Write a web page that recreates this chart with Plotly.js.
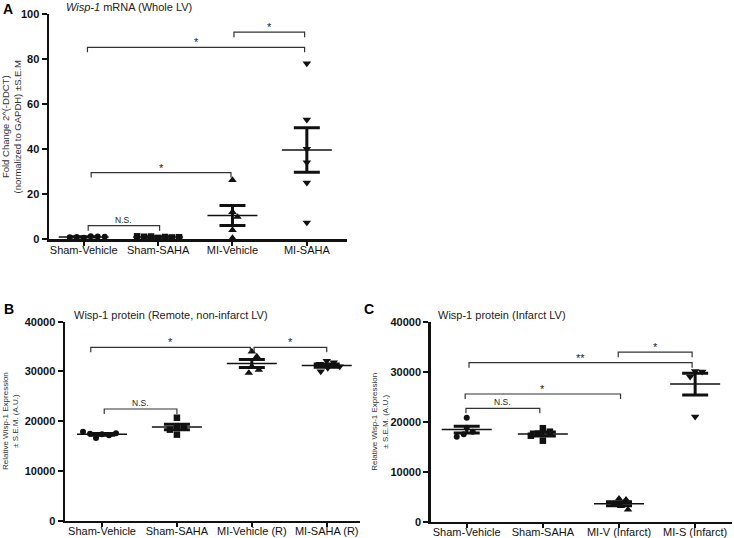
<!DOCTYPE html>
<html><head><meta charset="utf-8">
<script src="https://cdn.plot.ly/plotly-3.0.1.min.js"></script>
<style>html,body{margin:0;padding:0;background:#fff;}#chart{width:734px;height:538px;}</style>
</head><body><div id="chart"></div>
<script>
// ---------- DATA ----------
// Panel A: Wisp-1 mRNA (Whole LV)
const catsA = ['Sham-Vehicle', 'Sham-SAHA', 'MI-Vehicle', 'MI-SAHA'];
const aShamVehicle = [0.6, 1.2, 0.9, 1.1, 0.8, 1.0];
const aShamSAHA = [0.5, 0.9, 1.1, 0.7, 1.0, 0.8, 1.2];
const aMIVehicle = [26.2, 12.0, 9.8, 4.0, 0.4];
const aMISAHA = [78.0, 53.0, 40.0, 34.0, 25.0, 7.3];
const ticksA = [0, 20, 40, 60, 80, 100];

// Panel B: Wisp-1 protein (Remote, non-infarct LV)
const catsB = ['Sham-Vehicle', 'Sham-SAHA', 'MI-Vehicle (R)', 'MI-SAHA (R)'];
const bShamVehicle = [17400, 17200, 16600, 17500, 17600, 17900];
const bShamSAHA = [20700, 19000, 18800, 18300, 17300];
const bMIVehicle = [34000, 33000, 31000, 30300, 29700];
const bMISAHA = [32100, 31800, 31500, 31000, 30700, 30000];
const ticksB = [0, 10000, 20000, 30000, 40000];

// Panel C: Wisp-1 protein (Infarct LV)
const catsC = ['Sham-Vehicle', 'Sham-SAHA', 'MI-V (Infarct)', 'MI-S (Infarct)'];
const cShamVehicle = [20800, 18800, 18000, 17500, 17000];
const cShamSAHA = [18700, 18000, 17600, 17200, 16200];
const cMIV = [4600, 4400, 3500, 3100, 2400];
const cMIS = [30100, 30000, 29000, 21000];
const ticksC = [0, 10000, 20000, 30000, 40000];

// Significance brackets: [from group, to group, height, label]
const sigA = [[0.05, 2.97, 85.2, '*'], [2.02, 2.97, 91.9, '*'], [0.1, 1.98, 29.5, '*'], [0.06, 1.02, 5.9, 'N.S.']];
const sigB = [[-0.15, 1.98, 34850, '*'], [2.03, 3.0, 34850, '*'], [0.03, 1.0, 22450, 'N.S.']];
const sigC = [[0.03, 2.96, 31800, '**'], [1.99, 2.96, 33900, '*'], [-0.02, 2.02, 25540, '*'], [-0.01, 0.96, 22680, 'N.S.']];

// ---------- LAYOUT HELPERS ----------
const W = 734, H = 538;
const FONT = 'Liberation Sans, Arial, Helvetica, sans-serif';
const symbols = ['circle', 'square', 'triangle-up', 'triangle-down'];
const msize = [6, 6.5, 7.5, 7.5];
const px = x => x / W;
const py = y => 1 - y / H;

const panels = [
  {key: '', cats: catsA, groups: [aShamVehicle, aShamSAHA, aMIVehicle, aMISAHA], ticks: ticksA,
   x0: 49, x1: 347, y0: 14, y1: 239, xr: [-0.467, 3.54], yr: [0, 100], sig: sigA},
  {key: '2', cats: catsB, groups: [bShamVehicle, bShamSAHA, bMIVehicle, bMISAHA], ticks: ticksB,
   x0: 65, x1: 360, y0: 321.7, y1: 520.7, xr: [-0.494, 3.444], yr: [0, 40000], sig: sigB},
  {key: '3', cats: catsC, groups: [cShamVehicle, cShamSAHA, cMIV, cMIS], ticks: ticksC,
   x0: 430.7, x1: 731.7, y0: 321.7, y1: 521.7, xr: [-0.473, 3.48], yr: [0, 40000], sig: sigC}
];

function mean(a) { return a.reduce((s, v) => s + v, 0) / a.length; }
function sem(a) {
  const m = mean(a);
  const sd = Math.sqrt(a.reduce((s, v) => s + (v - m) * (v - m), 0) / (a.length - 1));
  return sd / Math.sqrt(a.length);
}
// simple beeswarm: horizontal offset (in px) so markers do not overlap
function swarm(vals, ky, D) {
  const placed = [], out = [];
  vals.forEach(v => {
    const yp = v * ky;
    let off = 0;
    for (let k = 0; k < 400; k++) {
      const c = (k % 2 ? 1 : -1) * Math.ceil(k / 2);
      if (placed.every(p => (c - p.x) ** 2 + (yp - p.y) ** 2 >= D * D)) { off = c; break; }
    }
    placed.push({x: off, y: yp});
    out.push(off);
  });
  return out;
}

const traces = [], shapes = [], annotations = [];
const layout = {
  width: W, height: H, margin: {l: 0, r: 0, t: 0, b: 0},
  paper_bgcolor: '#fff', plot_bgcolor: '#fff', showlegend: false,
  font: {family: FONT, color: '#111'}
};

panels.forEach(p => {
  const xa = 'x' + p.key, ya = 'y' + p.key;
  const kx = (p.x1 - p.x0) / (p.xr[1] - p.xr[0]);
  const ky = (p.y1 - p.y0) / (p.yr[1] - p.yr[0]);
  layout['xaxis' + p.key] = {
    domain: [px(p.x0), px(p.x1)], range: p.xr, anchor: ya,
    tickvals: [0, 1, 2, 3], ticktext: p.cats, showline: true, linewidth: 2.5, linecolor: '#111',
    ticks: 'outside', ticklen: 4, tickwidth: 2, tickcolor: '#111', ticklabelstandoff: -5,
    tickfont: {size: 11, family: FONT, color: '#111'}, showgrid: false, zeroline: false, fixedrange: true
  };
  layout['yaxis' + p.key] = {
    domain: [py(p.y1), py(p.y0)], range: p.yr, anchor: xa,
    tickvals: p.ticks, tickformat: 'd', showline: true, linewidth: 2.5, linecolor: '#111',
    ticks: 'outside', ticklen: 5, tickwidth: 2, tickcolor: '#111',
    tickfont: {size: 11, family: FONT, color: '#111', weight: 700}, showgrid: false, zeroline: false, fixedrange: true
  };
  const halfMean = 25 / kx;
  const mx = [], my = [], ex = [], ey = [], es = [];
  p.groups.forEach((g, i) => {
    const offs = swarm(g, ky, 7);
    traces.push({
      type: 'scatter', mode: 'markers', xaxis: xa, yaxis: ya, cliponaxis: false,
      x: g.map((v, j) => i + offs[j] / kx), y: g,
      marker: {symbol: symbols[i], size: msize[i], color: '#111', line: {width: 0}},
      hoverinfo: 'skip'
    });
    const m = mean(g);
    mx.push(i - halfMean, i + halfMean, null); my.push(m, m, null);
    ex.push(i); ey.push(m); es.push(sem(g));
  });
  traces.push({type: 'scatter', mode: 'lines', xaxis: xa, yaxis: ya, cliponaxis: false,
    x: mx, y: my, line: {color: '#111', width: 1.5}, hoverinfo: 'skip'});
  traces.push({type: 'scatter', mode: 'markers', xaxis: xa, yaxis: ya, cliponaxis: false,
    x: ex, y: ey, marker: {size: 1, color: 'rgba(0,0,0,0)'},
    error_y: {type: 'data', array: es, visible: true, color: '#111', thickness: 3, width: 13},
    hoverinfo: 'skip'});
  const drop = 5 / ky;
  p.sig.forEach(s => {
    const [a, b, h, lab] = s;
    shapes.push({type: 'path', xref: xa, yref: ya,
      path: `M ${a},${h - drop} L ${a},${h} L ${b},${h} L ${b},${h - drop}`,
      line: {color: '#333', width: 1.2}});
    const star = lab.indexOf('*') >= 0;
    annotations.push({xref: xa, yref: ya, x: (a + b) / 2, y: h, text: lab, showarrow: false,
      xanchor: 'center', yanchor: 'bottom', yshift: star ? -3 : -1,
      font: {size: star ? 11 : 8.5, family: FONT, color: '#222'}});
  });
});

// titles, panel letters, y-axis titles
const txt = (x, y, text, size, opts) => Object.assign({xref: 'paper', yref: 'paper', x: px(x), y: py(y),
  text: text, showarrow: false, xanchor: 'left', yanchor: 'middle',
  font: {size: size, family: FONT, color: '#222'}}, opts || {});
annotations.push(txt(64, 7, '<i>Wisp-1</i> mRNA (Whole LV)', 11));
annotations.push(txt(72, 315, 'Wisp-1 protein (Remote, non-infarct LV)', 11));
annotations.push(txt(436, 315, 'Wisp-1 protein (Infarct LV)', 11));
annotations.push(txt(2, 0, '<b>A</b>', 14, {yanchor: 'top', borderpad: 0, font: {size: 14, family: FONT, color: '#000'}}));
annotations.push(txt(2, 309, '<b>B</b>', 14, {font: {size: 14, family: FONT, color: '#000'}}));
annotations.push(txt(362, 309, '<b>C</b>', 14, {font: {size: 14, family: FONT, color: '#000'}}));
annotations.push(txt(11, 126.5, 'Fold Change 2^(-DDCT)<br>(normalized to GAPDH) ±S.E.M', 9.5,
  {xanchor: 'center', textangle: -90, font: {size: 9.5, family: FONT, color: '#333'}}));
annotations.push(txt(10, 421, 'Relative Wisp-1 Expression<br>± S.E.M. (A.U.)', 8,
  {xanchor: 'center', textangle: -90, font: {size: 8, family: FONT, color: '#333'}}));
annotations.push(txt(380, 421.7, 'Relative Wisp-1 Expression<br>± S.E.M. (A.U.)', 8,
  {xanchor: 'center', textangle: -90, font: {size: 8, family: FONT, color: '#333'}}));

layout.shapes = shapes;
layout.annotations = annotations;
Plotly.newPlot('chart', traces, layout, {staticPlot: true, displayModeBar: false});
</script>
</body></html>
